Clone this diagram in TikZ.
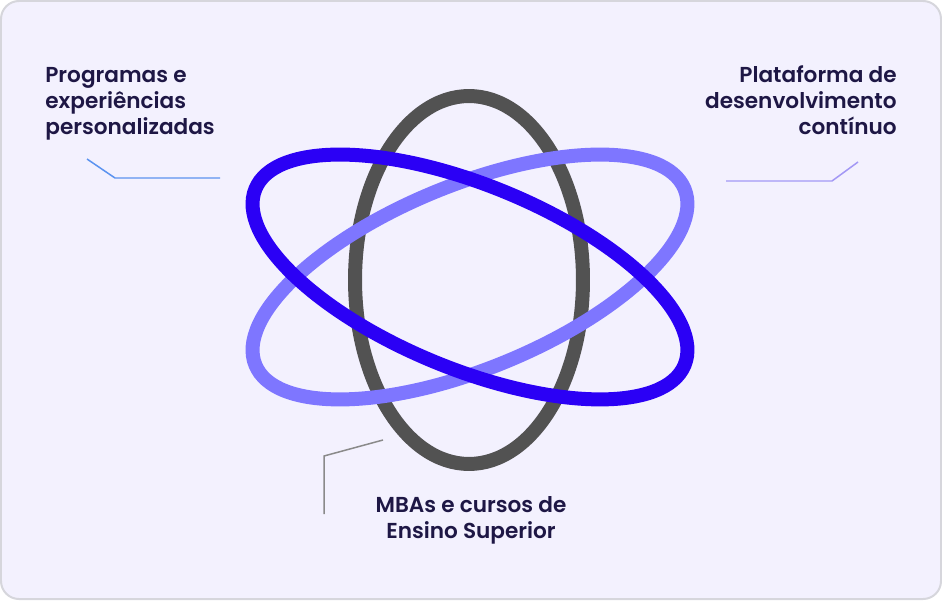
\documentclass[tikz,border=0pt]{standalone}
\usepackage{fontspec}
\newfontfamily\itemfont{Poppins SemiBold}
\usetikzlibrary{positioning}

\definecolor{cardbg}{HTML}{F3F1FE}
\definecolor{cardline}{HTML}{D6D6DC}
\definecolor{ink}{HTML}{1E1745}
\definecolor{orbitdark}{HTML}{2B00F5}
\definecolor{orbitlight}{HTML}{7E76FF}
\definecolor{orbitgray}{HTML}{525252}
\definecolor{leadblue}{HTML}{5B93F0}
\definecolor{leadpurple}{HTML}{A398F5}
\definecolor{leadgray}{HTML}{8A8A8A}

\begin{document}
\begin{tikzpicture}[x=0.02cm, y=-0.02cm,
    orbit/.style={line width=0.28cm},
    itemtext/.style={font=\itemfont\fontsize{12.3pt}{14.8pt}\selectfont, text=ink, inner sep=0pt},
    leader/.style={line width=0.03cm}
]

\useasboundingbox (0,0) rectangle (942,601);

% Card
\draw[cardline, fill=cardbg, line width=0.04cm, rounded corners=0.36cm] (1,1) rectangle (941,599);

% Orbits
\coordinate (core) at (470,277);
\draw[orbit, orbitgray] (469,280) ellipse [x radius=2.28cm, y radius=3.68cm];
\draw[orbit, orbitlight, rotate around={22.3:(core)}] (core) ellipse [x radius=4.64cm, y radius=1.84cm];
\draw[orbit, orbitdark, rotate around={-22.3:(core)}] (core) ellipse [x radius=4.64cm, y radius=1.84cm];

% Labels
\node[itemtext, align=left, anchor=base west] (programas) at (45,135) {Programas e\\experiências\\personalizadas};
\node[itemtext, align=right, anchor=base east] (plataforma) at (897,135) {Plataforma de\\desenvolvimento\\contínuo};
\node[itemtext, align=center, anchor=base] (mbas) at (471,538) {MBAs e cursos de\\Ensino Superior};

% Leaders
\coordinate (progA) at (87,159);
\coordinate (progB) at (115,178);
\coordinate (progC) at (220,178);
\draw[leader, leadblue] (progA) -- (progB) -- (progC);
\coordinate (platA) at (726,181);
\coordinate (platB) at (832,181);
\coordinate (platC) at (858,162);
\draw[leader, leadpurple] (platA) -- (platB) -- (platC);
\coordinate (mbaA) at (383,440);
\coordinate (mbaB) at (324,456);
\coordinate (mbaC) at (324,514);
\draw[leader, leadgray] (mbaA) -- (mbaB) -- (mbaC);

\end{tikzpicture}
\end{document}
